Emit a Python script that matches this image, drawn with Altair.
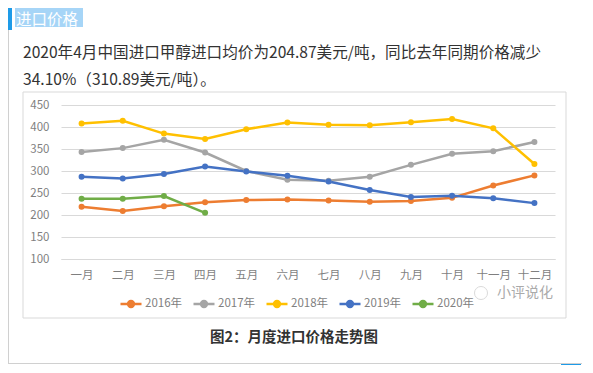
import altair as alt
import pandas as pd

months = ["一月", "二月", "三月", "四月", "五月", "六月", "七月", "八月", "九月", "十月", "十一月", "十二月"]
years = ["2016年", "2017年", "2018年", "2019年", "2020年"]
colors = ["#ED7D31", "#A5A5A5", "#FFC000", "#4472C4", "#70AD47"]
s2016 = [219, 209, 220, 229, 234, 235, 233, 230, 232, 239, 267, 290]
s2017 = [343, 352, 371, 342, 300, 280, 278, 287, 314, 339, 345, 366]
s2018 = [408, 414, 385, 373, 395, 410, 405, 404, 411, 418, 397, 316]
s2019 = [287, 283, 293, 310, 299, 289, 276, 257, 241, 244, 238, 227]
s2020 = [237, 237, 243, 205]
y_ticks = [100, 150, 200, 250, 300, 350, 400, 450]

header = "进口价格"
para1 = "2020年4月中国进口甲醇进口均价为204.87美元/吨，同比去年同期价格减少"
para2 = "34.10%（310.89美元/吨）。"
caption = "图2：月度进口价格走势图"
watermark = "小评说化"

rows = []
for yname, series in zip(years, [s2016, s2017, s2018, s2019, s2020]):
    for i, (m, v) in enumerate(zip(months, series)):
        rows.append({"month": m, "idx": i, "year": yname, "value": v})
df = pd.DataFrame(rows)

FONT = "Noto Sans CJK SC"
one = alt.Data(values=[{"a": 1}])

def rect(x, x2, y, y2, **kw):
    return alt.Chart(one).mark_rect(**kw).encode(
        x=alt.value(x), x2=alt.value(x2), y=alt.value(y), y2=alt.value(y2))

def text(x, y, t, **kw):
    return alt.Chart(one).mark_text(font=FONT, baseline="middle", **kw).encode(
        x=alt.value(x), y=alt.value(y), text=alt.value(t))

box = rect(-38, 505, -13, 213, filled=False, stroke="#d9d9d9", strokeWidth=1)
left_line = rect(-53, -52, -75, 259, fill="#d0d0d0")
bottom_line = rect(-53, 521, 258, 259, fill="#d0d0d0")
blue_sq = rect(500, 520, 259, 268, fill="#1E9BE8")
blue_bar = rect(-53, -49, -97, -75, fill="#1E9BE8")
hl = rect(-46, 22, -99, -78, fill="#A6D5F7")

t_header = text(-45, -85.5, header, align="left", fontSize=15.5, color="white")
t_p1 = text(-38, -52, para1, align="left", fontSize=15.6, color="#333333")
t_p2 = text(-38, -25, para2, align="left", fontSize=15.6, color="#333333")
t_cap = text(233, 233, caption, align="center", fontSize=14.5, fontWeight="bold", color="#333333")
t_wm = text(436, 188, watermark, align="left", fontSize=14, color="#aaaaaa")
icon = alt.Chart(one).mark_point(shape="circle", filled=False, stroke="#cccccc", strokeWidth=1, size=170).encode(
    x=alt.value(420), y=alt.value(188))

legend_path = "M-1,0H1M0.28,0A0.28,0.28,0,1,1,-0.28,0A0.28,0.28,0,1,1,0.28,0Z"

lines = alt.Chart(df).mark_line(
    strokeWidth=2.5,
    point=alt.OverlayMarkDef(filled=True, size=36, opacity=1),
).encode(
    x=alt.X("month:N", sort=months, title=None,
            scale=alt.Scale(type="point", padding=0.5),
            axis=alt.Axis(labelAngle=0, ticks=False, domain=True, domainColor="#d9d9d9",
                          labelFont=FONT, labelFontSize=11.5, labelColor="#7f7f7f",
                          labelPadding=10, grid=False)),
    y=alt.Y("value:Q", title=None,
            scale=alt.Scale(domain=[100, 450], nice=False, zero=False),
            axis=alt.Axis(values=y_ticks, ticks=False, domain=False, grid=True,
                          gridColor="#d9d9d9", labelFont=FONT, labelFontSize=11.5,
                          labelColor="#7f7f7f", labelPadding=12)),
    color=alt.Color("year:N", scale=alt.Scale(domain=years, range=colors),
                    legend=alt.Legend(orient="none", legendX=58, legendY=187,
                                      direction="horizontal", title=None,
                                      symbolType=legend_path, symbolSize=441,
                                      symbolStrokeWidth=2.5, labelFont=FONT,
                                      labelFontSize=11.5, labelColor="#7f7f7f",
                                      columnPadding=5, labelOffset=2)),
    order=alt.Order("idx:Q"),
)

chart = alt.layer(
    box, left_line, bottom_line, blue_sq, blue_bar, hl, t_header, t_p1, t_p2,
    lines, t_cap, icon, t_wm,
).properties(
    width=494, height=154,
    padding={"left": 53, "top": 97, "right": 30, "bottom": 106},
    autosize=alt.AutoSizeParams(type="none"),
    background="white",
).configure_view(strokeWidth=0)

chart.save("out.html", embed_options={"renderer": "svg", "actions": False})
